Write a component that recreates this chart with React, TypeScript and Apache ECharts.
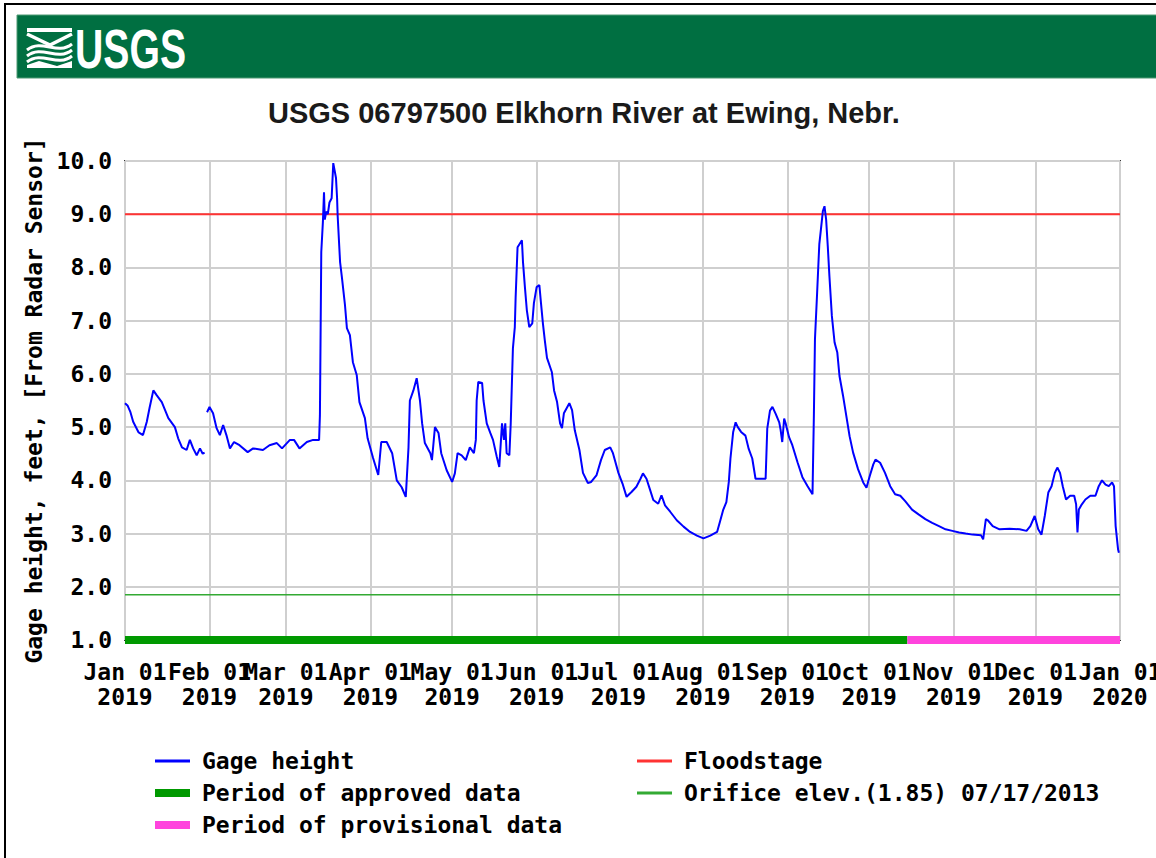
import React, { useEffect, useRef } from "react";
import * as echarts from "echarts";

// ---- Data ----
const TITLE = "USGS 06797500 Elkhorn River at Ewing, Nebr.";
const Y_NAME = "Gage height, feet, [From Radar Sensor]";

// x axis: days since 2019-01-01
const TICK_DAYS = [0, 31, 59, 90, 120, 151, 181, 212, 243, 273, 304, 334, 365];
const TICK_MONTHS = ["Jan 01", "Feb 01", "Mar 01", "Apr 01", "May 01", "Jun 01", "Jul 01", "Aug 01", "Sep 01", "Oct 01", "Nov 01", "Dec 01", "Jan 01"];
const TICK_YEARS = ["2019", "2019", "2019", "2019", "2019", "2019", "2019", "2019", "2019", "2019", "2019", "2019", "2020"];

const FLOOD_STAGE = 9.0;
const ORIFICE_ELEV = 1.85;
const APPROVED_END_DAY = 287;
const PERIOD_LEVEL = 1.0;

const GAGE_DAY = [
  0, 1, 2, 3, 5, 6.6, 8, 9, 10.4, 11.6, 13.5, 15.9, 18.3, 19.5, 20.9, 22.6, 23.8, 25, 26.3, 27.5, 28.5, 29.2,
  29.6,
  30.1, 31, 32.3, 33.6, 34.8, 36, 37.2, 38.5, 40, 42, 45, 47, 50.6, 53, 55.7, 57.6, 60.5, 62, 64, 66.7, 69, 71.2,
  71.5, 72, 72.6, 73, 73.3, 73.8, 74.4, 75, 75.8, 76.4, 77.4, 77.8, 78, 78.9, 79.6, 80.7, 81.4, 82.5, 83.6, 85,
  86, 88, 89, 91, 92.9, 94, 96, 98, 99.7, 101.5, 103, 104, 104.5, 105.8, 107, 108.2, 109, 110, 112, 112.6,
  113.7, 115, 116, 118, 120, 121, 122, 123.5, 125, 126.5, 128, 128.7, 129, 129.6, 131, 131.5, 132.7, 134, 135,
  136.4, 137.3, 138.3, 139, 139.5, 140, 141, 141.5, 142.3, 143, 143.3, 144, 145.6, 146, 146.7, 147.4, 148.3,
  149.4, 150, 151, 152, 152.6, 153.3, 154, 154.8, 156.6, 157.4, 158.5, 159.6, 160.3, 161, 163, 164, 165, 166.7,
  168, 169.8, 171, 173, 174.6, 176, 178, 179, 181, 182.5, 184, 185.8, 187.6, 189.1, 190, 191.3, 192.5, 193.8,
  195.6, 196.8, 198.1, 200, 202.4, 204.9, 207.3, 209.8, 212.2, 214.7, 217.2, 218.4, 219.4, 220.6, 221.5, 222.1,
  223.1, 224, 224.8, 226, 227.6, 228.8, 230.1, 231.3, 233.2, 235, 235.6, 236.6, 237.5, 238.7, 240, 240.5, 241.1,
  241.8, 242.4, 243.6, 244.8, 246.7, 248.5, 250.4, 252.2, 252.7, 253.1, 253.9, 254.5, 254.7, 255.3, 256, 256.6,
  257.2, 257.8, 258.4, 259.3, 260.3, 261.3, 262.1, 263.4, 264.6, 265.8, 267.1, 268.9, 270.8, 272, 273.2, 274.5,
  275.3, 277, 278.8, 280.7, 282.5, 284.4, 286.2, 288.7, 291.1, 293.6, 296.1, 298.6, 301, 303.5, 306, 308.4,
  310.9, 314, 314.8, 315.8, 316.5, 318.3, 320.8, 324.5, 328.2, 330.7, 332.1, 333.7, 335, 336.2, 337.4, 338.7,
  339.9, 341.1, 342, 343, 344, 345.2, 346.7, 348.2, 348.9, 349.4, 349.9, 351, 352.3, 354.1, 356, 357.2, 358.4,
  359.7, 360.9, 362.1, 362.8, 363.4, 364.3, 364.6,
];

const GAGE_FT = [
  5.45, 5.4, 5.28, 5.1, 4.9, 4.85, 5.1, 5.36, 5.69, 5.6, 5.47, 5.17, 5.0, 4.79, 4.62, 4.57, 4.76, 4.6, 4.47, 4.6, 4.5, 4.52,
  null,
  5.28, 5.38, 5.26, 4.98, 4.85, 5.04, 4.85, 4.6, 4.72, 4.66, 4.53, 4.6, 4.57, 4.66, 4.7, 4.6, 4.76, 4.76, 4.6, 4.72, 4.76, 4.76,
  5.22, 8.29, 8.86, 9.41, 8.9, 9.05, 9.0, 9.22, 9.3, 9.96, 9.68, 9.3, 8.98, 8.1, 7.8, 7.29, 6.86, 6.73, 6.22, 5.98,
  5.47, 5.17, 4.79, 4.42, 4.1, 4.72, 4.72, 4.51, 4.0, 3.87, 3.69, 4.62, 5.5, 5.69, 5.92, 5.5, 5.07, 4.7, 4.51, 4.38,
  5.0, 4.89, 4.51, 4.19, 3.97, 4.13, 4.51, 4.47, 4.38, 4.62, 4.51, 4.76, 5.5, 5.85, 5.83, 5.5, 5.07, 4.89, 4.76,
  4.44, 4.25, 5.07, 4.76, 5.07, 4.51, 4.47, 5.07, 6.48, 6.88, 7.44, 8.38, 8.51, 8.1, 7.63, 7.2, 6.88,
  6.95, 7.33, 7.63, 7.67, 7.33, 6.95, 6.63, 6.3, 6.03, 5.69, 5.47, 5.07, 4.98, 5.26, 5.45, 5.32, 4.94, 4.57,
  4.14, 3.95, 3.97, 4.1, 4.38, 4.57, 4.62, 4.51, 4.14, 3.94, 3.69, 3.78, 3.88, 4.03, 4.13, 4.03, 3.84, 3.63,
  3.56, 3.72, 3.53, 3.41, 3.25, 3.13, 3.03, 2.96, 2.91, 2.96, 3.03, 3.25, 3.44, 3.59, 3.97, 4.41,
  4.91, 5.09, 5.0, 4.91, 4.84, 4.59, 4.41, 4.03, 4.03, 4.03, 4.97, 5.31, 5.38, 5.25, 5.09, 4.95, 4.72,
  5.16, 5.06, 4.81, 4.66, 4.34, 4.06, 3.89, 3.74, 5.21, 6.65, 7.53, 8.22, 8.44, 8.72, 9.06, 9.15,
  8.9, 8.4, 7.84, 7.09, 6.59, 6.4, 5.96, 5.59, 5.21, 4.83, 4.52, 4.21, 3.96, 3.86, 4.08, 4.3,
  4.39, 4.33, 4.14, 3.89, 3.74, 3.71, 3.61, 3.45, 3.36, 3.27, 3.2, 3.14, 3.08, 3.05, 3.02, 3.0,
  2.98, 2.97, 2.89, 3.27, 3.25, 3.14, 3.08, 3.09, 3.08, 3.05, 3.14, 3.33, 3.08, 2.98, 3.33, 3.77,
  3.89, 4.14, 4.24, 4.14, 3.89, 3.64, 3.71, 3.71, 3.55, 3.02, 3.45, 3.55, 3.64, 3.71, 3.71, 3.89, 4.0,
  3.92, 3.89, 3.96, 3.89, 3.14, 2.7, 2.64,
];

const SERIES_GAGE = "Gage height";
const SERIES_APPROVED = "Period of approved data";
const SERIES_PROVISIONAL = "Period of provisional data";
const SERIES_FLOOD = "Floodstage";
const SERIES_ORIFICE = "Orifice elev.(1.85) 07/17/2013";

const MONO = '"DejaVu Sans Mono", monospace';
const MONO_SIZE = 23;

export default function App() {
  const ref = useRef<HTMLDivElement>(null);

  useEffect(() => {
    if (!ref.current) return;
    const chart = echarts.init(ref.current, null, { renderer: "svg" });

    const gageData = GAGE_DAY.map((d, i) => [d, GAGE_FT[i]]);
    const yearStart = TICK_DAYS[0];
    const yearEnd = TICK_DAYS[TICK_DAYS.length - 1];

    const textBase = {
      fontFamily: MONO,
      fontSize: MONO_SIZE,
      fontWeight: "bold" as const,
      color: "#000",
    };

    const legendItem = (name: string, left: number, centerY: number, iconH: number) => ({
      left,
      top: centerY - 12,
      padding: 0,
      orient: "vertical",
      icon: "rect",
      itemWidth: 35,
      itemHeight: iconH,
      selectedMode: false,
      textStyle: { ...textBase, lineHeight: 24, padding: [0, 0, 0, 7] },
      data: [name],
    });

    const option: any = {
      animation: false,
      backgroundColor: "#fff",
      title: {
        text: TITLE,
        left: 268,
        top: 98,
        padding: 0,
        textStyle: {
          fontFamily: '"Liberation Sans", Arial, sans-serif',
          fontWeight: "bold",
          fontSize: 29,
          color: "#1a1a1a",
        },
      },
      graphic: [
        {
          type: "rect",
          shape: { x: 5, y: 4, width: 1300, height: 1000 },
          style: { fill: "none", stroke: "#000", lineWidth: 2 },
          silent: true,
        },
        {
          type: "rect",
          shape: { x: 17, y: 15, width: 1200, height: 63 },
          style: { fill: "#006f41", stroke: "#4f9a74", lineWidth: 1 },
          silent: true,
        },
        {
          type: "group",
          x: 27,
          y: 28,
          silent: true,
          children: [
            { type: "rect", shape: { x: 0, y: 0, width: 45, height: 4 }, style: { fill: "#fff" } },
            { type: "polyline", shape: { points: [[0, 6], [23, 17], [45, 6]] }, style: { stroke: "#fff", lineWidth: 3.5, fill: "none" } },
            { type: "bezierCurve", shape: { x1: 0, y1: 22, cpx1: 15, cpy1: 10, cpx2: 30, cpy2: 28, x2: 45, y2: 16 }, style: { stroke: "#fff", lineWidth: 3, fill: "none" } },
            { type: "bezierCurve", shape: { x1: 0, y1: 28, cpx1: 15, cpy1: 16, cpx2: 30, cpy2: 34, x2: 45, y2: 22 }, style: { stroke: "#fff", lineWidth: 3, fill: "none" } },
            { type: "bezierCurve", shape: { x1: 0, y1: 34, cpx1: 15, cpy1: 22, cpx2: 30, cpy2: 40, x2: 45, y2: 28 }, style: { stroke: "#fff", lineWidth: 3, fill: "none" } },
            { type: "polygon", shape: { points: [[0, 37], [12, 33], [30, 38], [45, 33], [45, 40], [0, 40]] }, style: { fill: "#fff" } },
          ],
        },
        {
          type: "text",
          x: 75,
          y: 48,
          scaleX: 0.7,
          silent: true,
          style: {
            text: "USGS",
            x: 0,
            y: 0,
            fill: "#fff",
            font: 'bold 56px "Liberation Sans", Arial, sans-serif',
            textVerticalAlign: "middle",
            textAlign: "left",
          },
        },
      ],
      grid: {
        left: 125,
        right: 36,
        top: 161,
        bottom: 218,
        outerBoundsMode: "none",
        containLabel: false,
        show: true,
        backgroundColor: "#fff",
        borderColor: "#333",
        borderWidth: 2,
      },
      legend: [
        legendItem(SERIES_GAGE, 155, 761, 3),
        legendItem(SERIES_APPROVED, 155, 793, 8),
        legendItem(SERIES_PROVISIONAL, 155, 825, 8),
        legendItem(SERIES_FLOOD, 637, 761, 3),
        legendItem(SERIES_ORIFICE, 637, 793, 3),
      ],
      xAxis: {
        type: "value",
        min: yearStart,
        max: yearEnd,
        axisLine: { show: false },
        axisTick: { show: false, customValues: TICK_DAYS },
        axisLabel: {
          ...textBase,
          customValues: TICK_DAYS,
          interval: 0,
          margin: 19,
          lineHeight: 25,
          showMinLabel: true,
          showMaxLabel: true,
          hideOverlap: false,
          formatter: (v: number) => {
            const i = TICK_DAYS.indexOf(v);
            return i >= 0 ? `${TICK_MONTHS[i]}\n${TICK_YEARS[i]}` : "";
          },
        },
        splitLine: { show: true, lineStyle: { color: "#cfcfcf", width: 2 } },
      },
      yAxis: {
        type: "value",
        min: 1,
        max: 10,
        interval: 1,
        name: Y_NAME,
        nameLocation: "middle",
        nameRotate: 90,
        nameGap: 80,
        nameTextStyle: { ...textBase },
        axisLine: { show: false },
        axisTick: { show: false },
        axisLabel: {
          ...textBase,
          margin: 13,
          formatter: (v: number) => v.toFixed(1),
        },
        splitLine: { show: true, lineStyle: { color: "#cfcfcf", width: 2 } },
      },
      series: [
        {
          name: SERIES_FLOOD,
          type: "line",
          symbol: "none",
          data: [[yearStart, FLOOD_STAGE], [yearEnd, FLOOD_STAGE]],
          lineStyle: { color: "#ff3333", width: 2 },
          itemStyle: { color: "#ff3333" },
          z: 3,
        },
        {
          name: SERIES_ORIFICE,
          type: "line",
          symbol: "none",
          data: [[yearStart, ORIFICE_ELEV], [yearEnd, ORIFICE_ELEV]],
          lineStyle: { color: "#33aa33", width: 1.5 },
          itemStyle: { color: "#33aa33" },
          z: 3,
        },
        {
          name: SERIES_APPROVED,
          type: "line",
          symbol: "none",
          clip: false,
          data: [[yearStart, PERIOD_LEVEL], [APPROVED_END_DAY, PERIOD_LEVEL]],
          lineStyle: { color: "#009900", width: 8, cap: "butt" },
          itemStyle: { color: "#009900" },
          z: 4,
        },
        {
          name: SERIES_PROVISIONAL,
          type: "line",
          symbol: "none",
          clip: false,
          data: [[APPROVED_END_DAY, PERIOD_LEVEL], [yearEnd, PERIOD_LEVEL]],
          lineStyle: { color: "#ff44dd", width: 8, cap: "butt" },
          itemStyle: { color: "#ff44dd" },
          z: 4,
        },
        {
          name: SERIES_GAGE,
          type: "line",
          symbol: "none",
          connectNulls: false,
          data: gageData,
          lineStyle: { color: "#0000ff", width: 2 },
          itemStyle: { color: "#0000ff" },
          z: 5,
        },
      ],
    };

    chart.setOption(option);
    return () => chart.dispose();
  }, []);

  return (
    <div
      ref={ref}
      style={{ position: "absolute", left: 0, top: 0, width: 1156, height: 858 }}
    />
  );
}
